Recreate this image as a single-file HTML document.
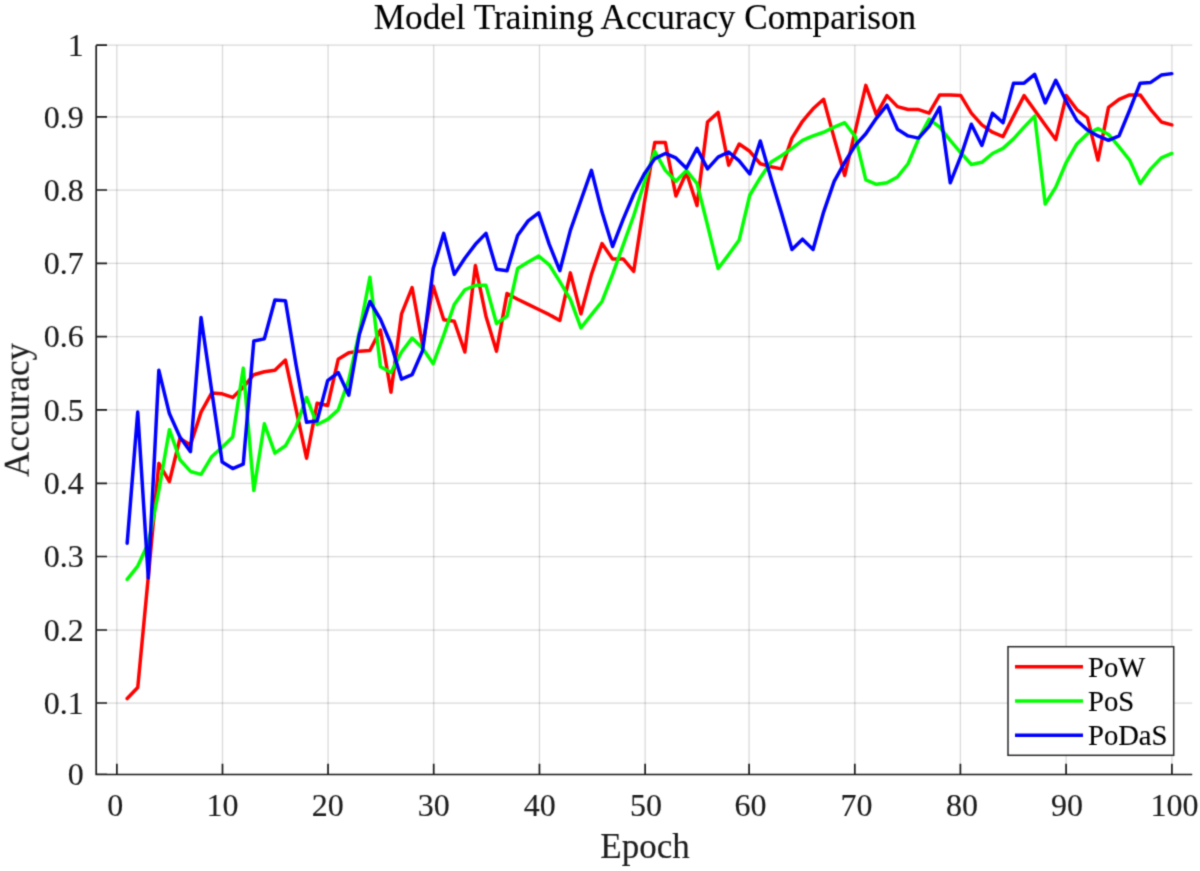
<!DOCTYPE html><html><head><meta charset="utf-8"><style>html,body{margin:0;padding:0;background:#fff;width:1200px;height:871px;overflow:hidden}svg{display:block}</style></head><body><svg width="1200" height="871" viewBox="0 0 1200 871"><defs><filter id="b" x="0" y="0" width="1200" height="871" filterUnits="userSpaceOnUse" color-interpolation-filters="sRGB"><feConvolveMatrix order="3" kernelMatrix="1 4 1 4 16 4 1 4 1" divisor="36" edgeMode="duplicate"/></filter></defs><rect width="1200" height="871" fill="#fff"/><g filter="url(#b)"><path d="M116.85 45.20V774.50M222.50 45.20V774.50M328.05 45.20V774.50M433.70 45.20V774.50M539.46 45.20V774.50M645.15 45.20V774.50M749.10 45.20V774.50M854.80 45.20V774.50M960.40 45.20V774.50M1066.10 45.20V774.50M1171.90 45.20V774.50" stroke="#262626" stroke-opacity="0.18" stroke-width="1.25" fill="none"/><path d="M96.20 703.00H1192.20M96.20 630.00H1192.20M96.20 556.50H1192.20M96.20 483.30H1192.20M96.20 409.90H1192.20M96.20 336.60H1192.20M96.20 263.40H1192.20M96.20 190.00H1192.20M96.20 116.80H1192.20M96.20 45.20H1192.20" stroke="#262626" stroke-opacity="0.18" stroke-width="1.25" fill="none"/><polyline points="127.18,698.54 137.73,687.56 148.29,576.93 158.84,463.38 169.39,481.69 179.94,438.47 190.49,445.06 201.05,412.10 211.60,393.05 222.15,393.78 232.70,397.45 243.25,387.19 253.81,374.74 264.36,371.80 274.91,370.34 285.46,360.08 296.01,409.17 306.57,458.25 317.12,403.31 327.67,405.50 338.22,359.35 348.77,352.76 359.33,351.29 369.88,350.56 380.43,330.05 390.98,392.32 401.53,313.93 412.09,287.56 422.64,345.43 433.19,286.09 443.74,319.79 454.29,321.26 464.85,352.02 475.40,265.58 485.95,316.13 496.50,351.29 507.05,293.42 517.61,299.28 528.16,304.41 538.71,309.53 549.26,314.66 559.81,320.52 570.37,272.90 580.92,313.93 591.47,274.37 602.02,243.60 612.57,258.98 623.13,258.98 633.68,271.44 644.23,203.31 654.78,142.50 665.33,142.50 675.89,195.98 686.44,172.54 696.99,205.50 707.54,121.99 718.09,112.46 728.65,165.21 739.20,143.97 749.75,151.29 760.30,163.75 770.85,166.68 781.41,168.87 791.96,138.11 802.51,121.26 813.06,108.80 823.61,99.28 834.17,138.11 844.72,175.47 855.27,130.78 865.82,85.36 876.37,114.66 886.93,95.61 897.48,106.60 908.03,109.53 918.58,109.53 929.13,113.20 939.69,94.88 950.24,94.88 960.79,95.61 971.34,113.20 981.89,124.92 992.45,132.24 1003.00,136.64 1013.55,116.13 1024.10,95.61 1034.65,110.27 1045.21,124.92 1055.76,139.57 1066.31,95.61 1076.86,109.53 1087.41,117.59 1097.97,160.08 1108.52,107.34 1119.07,99.28 1129.62,94.88 1140.17,94.88 1150.73,109.53 1161.28,121.99 1171.83,124.92" fill="none" stroke="#ff0000" stroke-width="3.5" stroke-linejoin="round" stroke-linecap="round"/><polyline points="127.18,579.42 137.73,566.09 148.29,543.23 158.84,490.49 169.39,429.68 179.94,459.72 190.49,471.44 201.05,474.37 211.60,456.79 222.15,447.26 232.70,437.01 243.25,368.14 253.81,490.49 264.36,423.82 274.91,453.12 285.46,445.80 296.01,426.75 306.57,397.45 317.12,424.55 327.67,419.42 338.22,409.90 348.77,379.86 359.33,332.24 369.88,277.30 380.43,366.68 390.98,372.54 401.53,352.02 412.09,338.11 422.64,348.36 433.19,363.75 443.74,335.17 454.29,304.41 464.85,289.75 475.40,285.36 485.95,285.36 496.50,323.45 507.05,316.13 517.61,268.51 528.16,261.91 538.71,256.05 549.26,264.85 559.81,281.69 570.37,299.28 580.92,327.85 591.47,314.66 602.02,301.48 612.57,274.37 623.13,245.07 633.68,215.76 644.23,182.79 654.78,151.29 665.33,170.34 675.89,181.33 686.44,170.34 696.99,183.53 707.54,225.28 718.09,268.51 728.65,254.59 739.20,239.94 749.75,195.25 760.30,177.67 770.85,162.28 781.41,155.69 791.96,148.36 802.51,140.30 813.06,135.91 823.61,132.24 834.17,127.12 844.72,122.72 855.27,136.64 865.82,179.86 876.37,184.26 886.93,182.79 897.48,176.93 908.03,163.75 918.58,138.84 929.13,119.06 939.69,127.12 950.24,140.30 960.79,152.76 971.34,164.48 981.89,162.28 992.45,153.49 1003.00,148.36 1013.55,138.84 1024.10,127.12 1034.65,116.13 1045.21,204.04 1055.76,187.19 1066.31,162.28 1076.86,143.97 1087.41,133.71 1097.97,128.58 1108.52,134.44 1119.07,146.90 1129.62,160.08 1140.17,183.53 1150.73,168.87 1161.28,157.89 1171.83,153.49" fill="none" stroke="#00ff00" stroke-width="3.5" stroke-linejoin="round" stroke-linecap="round"/><polyline points="127.18,543.23 137.73,412.10 148.29,577.81 158.84,370.34 169.39,413.56 179.94,437.01 190.49,451.66 201.05,317.59 211.60,390.12 222.15,461.91 232.70,468.51 243.25,464.11 253.81,341.04 264.36,338.84 274.91,300.01 285.46,300.74 296.01,364.48 306.57,422.35 317.12,420.89 327.67,380.60 338.22,372.54 348.77,395.25 359.33,334.44 369.88,301.48 380.43,319.06 390.98,343.97 401.53,379.13 412.09,374.74 422.64,350.56 433.19,268.51 443.74,233.34 454.29,274.37 464.85,258.25 475.40,244.33 485.95,233.34 496.50,269.24 507.05,270.71 517.61,235.54 528.16,220.89 538.71,212.83 549.26,244.33 559.81,270.71 570.37,230.41 580.92,200.38 591.47,170.34 602.02,212.10 612.57,246.53 623.13,219.42 633.68,194.52 644.23,174.00 654.78,158.62 665.33,153.49 675.89,157.89 686.44,168.14 696.99,148.36 707.54,168.87 718.09,157.15 728.65,152.02 739.20,160.82 749.75,174.00 760.30,141.04 770.85,177.67 781.41,212.83 791.96,249.46 802.51,239.20 813.06,249.46 823.61,212.10 834.17,181.33 844.72,162.28 855.27,145.43 865.82,133.71 876.37,118.33 886.93,105.14 897.48,129.31 908.03,135.91 918.58,138.11 929.13,126.38 939.69,107.34 950.24,182.79 960.79,156.42 971.34,124.19 981.89,145.43 992.45,113.20 1003.00,122.72 1013.55,83.16 1024.10,83.16 1034.65,74.37 1045.21,102.94 1055.76,80.23 1066.31,101.48 1076.86,120.52 1087.41,130.05 1097.97,135.91 1108.52,140.30 1119.07,135.91 1129.62,110.27 1140.17,83.16 1150.73,82.43 1161.28,75.10 1171.83,73.64" fill="none" stroke="#0000ff" stroke-width="3.5" stroke-linejoin="round" stroke-linecap="round"/><path d="M96.20 45.20V774.50H1192.20M116.85 774.50v-10.8M222.50 774.50v-10.8M328.05 774.50v-10.8M433.70 774.50v-10.8M539.46 774.50v-10.8M645.15 774.50v-10.8M749.10 774.50v-10.8M854.80 774.50v-10.8M960.40 774.50v-10.8M1066.10 774.50v-10.8M1171.90 774.50v-10.8M96.20 774.40h10.8M96.20 703.00h10.8M96.20 630.00h10.8M96.20 556.50h10.8M96.20 483.30h10.8M96.20 409.90h10.8M96.20 336.60h10.8M96.20 263.40h10.8M96.20 190.00h10.8M96.20 116.80h10.8M96.20 45.20h10.8" stroke="#1a1a1a" stroke-width="1.7" fill="none"/><g font-family="Liberation Serif" font-size="32" fill="#1c1c1c" stroke="#1c1c1c" stroke-width="0.15"><text x="115.15" y="816" text-anchor="middle">0</text><text x="222.50" y="816" text-anchor="middle">10</text><text x="327.75" y="816" text-anchor="middle">20</text><text x="433.70" y="816" text-anchor="middle">30</text><text x="539.76" y="816" text-anchor="middle">40</text><text x="646.05" y="816" text-anchor="middle">50</text><text x="750.60" y="816" text-anchor="middle">60</text><text x="856.60" y="816" text-anchor="middle">70</text><text x="961.90" y="816" text-anchor="middle">80</text><text x="1067.10" y="816" text-anchor="middle">90</text><text x="1174.50" y="816" text-anchor="middle">100</text><text x="83.8" y="785.20" text-anchor="end">0</text><text x="83.8" y="713.80" text-anchor="end">0.1</text><text x="83.8" y="640.80" text-anchor="end">0.2</text><text x="83.8" y="567.30" text-anchor="end">0.3</text><text x="83.8" y="494.10" text-anchor="end">0.4</text><text x="83.8" y="420.70" text-anchor="end">0.5</text><text x="83.8" y="347.40" text-anchor="end">0.6</text><text x="83.8" y="274.20" text-anchor="end">0.7</text><text x="83.8" y="200.80" text-anchor="end">0.8</text><text x="83.8" y="127.60" text-anchor="end">0.9</text><text x="83.8" y="56.00" text-anchor="end">1</text></g><text x="645" y="858.4" text-anchor="middle" font-family="Liberation Serif" font-size="35" fill="#1c1c1c" stroke="#1c1c1c" stroke-width="0.15">Epoch</text><text transform="translate(28.7 410) rotate(-90)" text-anchor="middle" font-family="Liberation Serif" font-size="35" fill="#1c1c1c" stroke="#1c1c1c" stroke-width="0.15">Accuracy</text><text x="645" y="29" text-anchor="middle" font-family="Liberation Serif" font-size="35.2" fill="#000" stroke="#000" stroke-width="0.15">Model Training Accuracy Comparison</text><rect x="1008" y="646.7" width="165.7" height="108.6" fill="#fff" stroke="#262626" stroke-width="1.5"/><path d="M1015 666.70H1083" stroke="#ff0000" stroke-width="3.5"/><text x="1088" y="676.50" font-family="Liberation Serif" font-size="28.6" fill="#000" stroke="#000" stroke-width="0.15">PoW</text><path d="M1015 701.00H1083" stroke="#00ff00" stroke-width="3.5"/><text x="1088" y="710.80" font-family="Liberation Serif" font-size="28.6" fill="#000" stroke="#000" stroke-width="0.15">PoS</text><path d="M1015 735.30H1083" stroke="#0000ff" stroke-width="3.5"/><text x="1088" y="745.10" font-family="Liberation Serif" font-size="28.6" fill="#000" stroke="#000" stroke-width="0.15">PoDaS</text></g></svg></body></html>
